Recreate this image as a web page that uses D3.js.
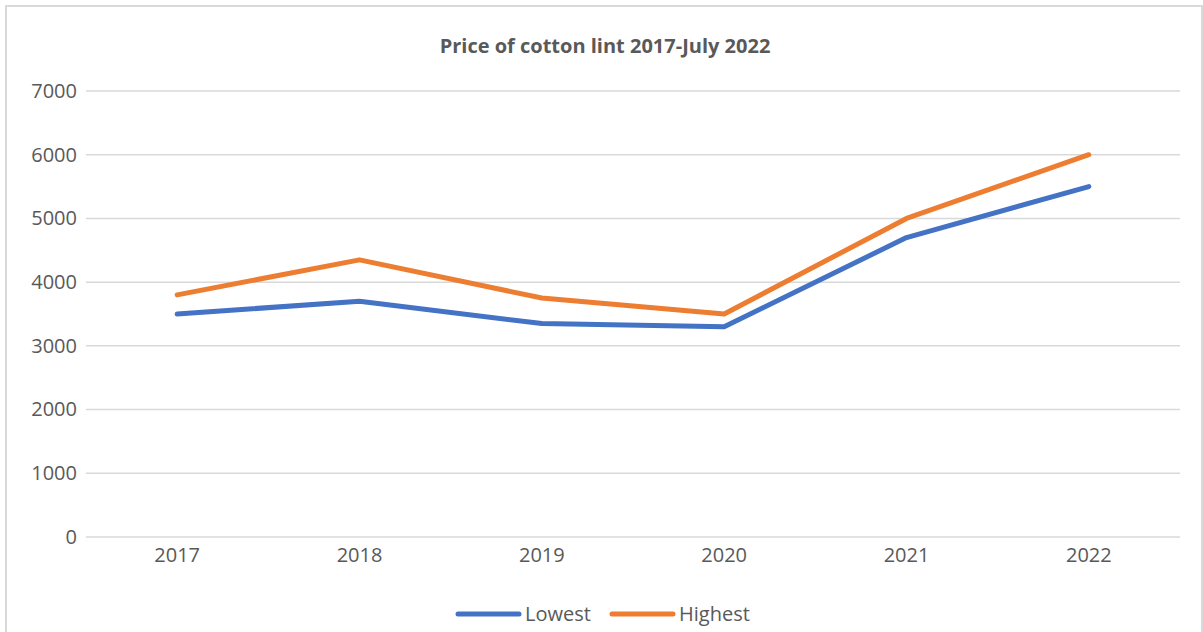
<!DOCTYPE html>
<html>
<head>
<meta charset="utf-8">
<script src="https://cdn.jsdelivr.net/npm/d3@7"></script>
<style>
  body { margin: 0; background: #fff; }
  text { font-family: "Open Sans", "DejaVu Sans", sans-serif; fill: #595959; }
</style>
</head>
<body>
<script>
// chart data
const years = ['2017', '2018', '2019', '2020', '2021', '2022'];
const lowest = [3500, 3700, 3350, 3300, 4700, 5500];
const highest = [3800, 4350, 3750, 3500, 5000, 6000];
const yTicks = [0, 1000, 2000, 3000, 4000, 5000, 6000, 7000];
const seriesNames = ['Lowest', 'Highest'];
const seriesColors = ['#4472C4', '#ED7D31'];

const width = 1203;
const height = 632;
const margin = { top: 91, right: 23, bottom: 95, left: 86 };
const innerWidth = width - margin.left - margin.right;
const innerHeight = height - margin.top - margin.bottom;

const svg = d3.select('body')
  .append('svg')
  .attr('width', width)
  .attr('height', height);

// chart area border (left, top, right; bottom runs past the picture)
svg.append('path')
  .attr('d', `M6,${height} V6 H${width - 1} V${height}`)
  .attr('fill', 'none')
  .attr('stroke', '#d9d9d9')
  .attr('stroke-width', 2);

svg.append('text')
  .attr('x', 605)
  .attr('y', 53)
  .attr('text-anchor', 'middle')
  .style('font-size', '20px')
  .style('font-weight', 'bold')
  .style('font-family', '"Liberation Sans Narrow", "Open Sans", sans-serif')
  .text('Price of cotton lint 2017-July 2022');

const chart = svg.append('g')
  .attr('transform', `translate(${margin.left}, ${margin.top})`);

const xScale = d3.scaleBand()
  .domain(years)
  .range([0, innerWidth]);

const yScale = d3.scaleLinear()
  .domain([0, 7000])
  .range([innerHeight, 0]);

// gridlines
chart.append('g')
  .selectAll('line')
  .data(yTicks)
  .enter().append('line')
  .attr('x1', 0)
  .attr('x2', innerWidth)
  .attr('y1', d => yScale(d))
  .attr('y2', d => yScale(d))
  .attr('stroke', '#d9d9d9')
  .attr('stroke-width', 1.5);

const yAxis = d3.axisLeft(yScale).tickValues(yTicks).tickFormat(d3.format('d')).tickSize(0).tickPadding(9);
const yAxisG = chart.append('g').call(yAxis);
yAxisG.select('.domain').remove();
yAxisG.selectAll('text')
  .style('font-size', '20px')
  .attr('fill', '#595959');

const xAxis = d3.axisBottom(xScale).tickSize(0).tickPadding(11);
const xAxisG = chart.append('g')
  .attr('transform', `translate(0, ${innerHeight})`)
  .call(xAxis);
xAxisG.select('.domain').remove();
xAxisG.selectAll('text')
  .style('font-size', '20px')
  .attr('fill', '#595959');

const line = d3.line()
  .x((d, i) => xScale(years[i]) + xScale.bandwidth() / 2)
  .y(d => yScale(d));

[lowest, highest].forEach((series, k) => {
  chart.append('path')
    .datum(series)
    .attr('d', line)
    .attr('fill', 'none')
    .attr('stroke', seriesColors[k])
    .attr('stroke-width', 5)
    .attr('stroke-linecap', 'round')
    .attr('stroke-linejoin', 'round');
});

// legend
const legendX = [456, 610];
const legend = svg.append('g');
seriesNames.forEach((name, k) => {
  legend.append('line')
    .attr('x1', legendX[k] + 2)
    .attr('x2', legendX[k] + 63)
    .attr('y1', 614)
    .attr('y2', 614)
    .attr('stroke', seriesColors[k])
    .attr('stroke-width', 5)
    .attr('stroke-linecap', 'round');
  legend.append('text')
    .attr('x', legendX[k] + 69)
    .attr('y', 621)
    .style('font-size', '20px')
    .text(name);
});
</script>
</body>
</html>
